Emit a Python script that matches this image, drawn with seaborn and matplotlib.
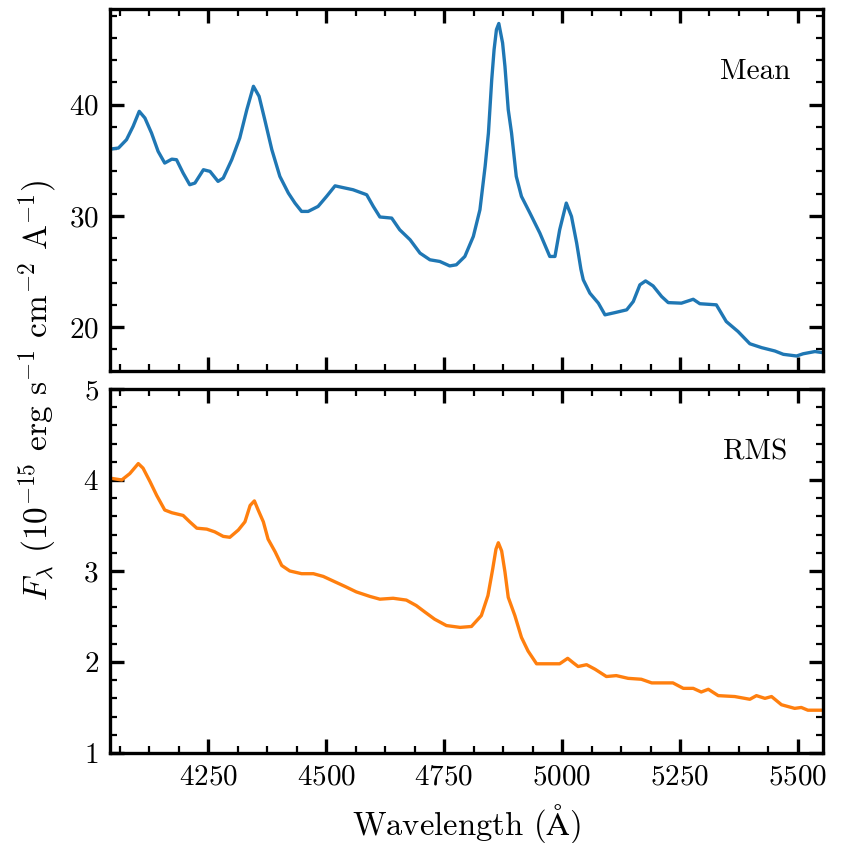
import matplotlib
matplotlib.use("Agg")
import matplotlib.pyplot as plt
from matplotlib.ticker import MultipleLocator
import seaborn as sns
import pandas as pd

# Mean spectrum: wavelength (Angstrom) and flux
mean_wave = [4042, 4060, 4077, 4091, 4104, 4116, 4130, 4144, 4158, 4173, 4183, 4197,
             4211, 4222, 4240, 4254, 4271, 4282, 4300, 4317, 4332, 4346, 4358, 4370,
             4385, 4402, 4420, 4434, 4448, 4462, 4483, 4501, 4519, 4535, 4557, 4586,
             4600, 4614, 4639, 4656, 4678, 4699, 4720, 4741, 4762, 4776, 4794, 4812,
             4826, 4837, 4844, 4851, 4856, 4861, 4866, 4874, 4879, 4886, 4893, 4903,
             4914, 4932, 4953, 4974, 4985, 4995, 5009, 5020, 5031, 5040, 5045, 5059,
             5077, 5091, 5112, 5137, 5151, 5165, 5177, 5193, 5211, 5225, 5253, 5278,
             5292, 5327, 5348, 5373, 5398, 5423, 5451, 5469, 5497, 5511, 5536, 5553]
mean_flux = [36.0, 36.1, 36.85, 38.05, 39.4, 38.8, 37.45, 35.8, 34.75, 35.1, 35.05, 33.85,
             32.8, 32.95, 34.15, 34.0, 33.1, 33.4, 35.05, 37.0, 39.55, 41.65, 40.75, 38.65,
             35.95, 33.55, 32.05, 31.15, 30.4, 30.4, 30.85, 31.75, 32.7, 32.55, 32.35, 31.9,
             30.85, 29.9, 29.8, 28.75, 27.85, 26.65, 26.05, 25.9, 25.5, 25.6, 26.35, 28.15,
             30.55, 34.45, 37.45, 42.25, 44.95, 46.75, 47.3, 45.55, 43.45, 39.55, 37.45, 33.55,
             31.75, 30.25, 28.45, 26.35, 26.35, 28.75, 31.15, 29.95, 27.55, 25.2, 24.25, 23.05,
             22.15, 21.1, 21.3, 21.55, 22.3, 23.8, 24.15, 23.7, 22.75, 22.2, 22.15, 22.5,
             22.1, 22.0, 20.5, 19.6, 18.5, 18.15, 17.85, 17.55, 17.4, 17.6, 17.8, 17.7]

# RMS spectrum
rms_wave = [4042, 4067, 4084, 4102, 4112, 4127, 4141, 4158, 4173, 4197, 4211, 4226,
            4247, 4264, 4282, 4296, 4314, 4328, 4339, 4348, 4356, 4367, 4377, 4392,
            4406, 4423, 4448, 4473, 4494, 4519, 4540, 4564, 4593, 4614, 4642, 4670,
            4691, 4709, 4730, 4755, 4784, 4808, 4829, 4843, 4853, 4860, 4865, 4872,
            4879, 4886, 4900, 4914, 4928, 4946, 4967, 4995, 5012, 5024, 5034, 5052,
            5070, 5094, 5115, 5140, 5168, 5190, 5218, 5235, 5257, 5278, 5295, 5310,
            5331, 5366, 5398, 5412, 5430, 5444, 5465, 5493, 5507, 5521, 5553]
rms_flux = [4.02, 4.0, 4.07, 4.18, 4.13, 3.98, 3.83, 3.67, 3.64, 3.61, 3.54, 3.47,
            3.46, 3.43, 3.38, 3.37, 3.45, 3.54, 3.72, 3.77, 3.67, 3.54, 3.35, 3.21,
            3.06, 3.0, 2.97, 2.97, 2.94, 2.88, 2.83, 2.77, 2.72, 2.69, 2.70, 2.68,
            2.62, 2.55, 2.47, 2.40, 2.38, 2.39, 2.51, 2.73, 3.02, 3.24, 3.31, 3.22,
            2.99, 2.71, 2.51, 2.27, 2.12, 1.98, 1.98, 1.98, 2.04, 1.99, 1.95, 1.97,
            1.92, 1.84, 1.85, 1.82, 1.81, 1.77, 1.77, 1.77, 1.71, 1.71, 1.67, 1.70,
            1.63, 1.62, 1.59, 1.63, 1.60, 1.62, 1.53, 1.49, 1.50, 1.47, 1.47]

panel_labels = ["Mean", "RMS"]

sns.set_theme(style="ticks")
plt.rcParams["font.family"] = ["cmr10", "DejaVu Serif"]
plt.rcParams["mathtext.fontset"] = "cm"
plt.rcParams["axes.unicode_minus"] = False
plt.rcParams["axes.formatter.use_mathtext"] = True
plt.rcParams["text.color"] = "black"
plt.rcParams["axes.labelcolor"] = "black"
plt.rcParams["xtick.color"] = "black"
plt.rcParams["ytick.color"] = "black"

fig = plt.figure(figsize=(8.48, 8.43), dpi=100)
ax1 = fig.add_axes([0.1297, 0.5599, 0.8408, 0.4294])
ax2 = fig.add_axes([0.1297, 0.1068, 0.8408, 0.4318], sharex=ax1)

df_mean = pd.DataFrame({"wave": mean_wave, "flux": mean_flux})
df_rms = pd.DataFrame({"wave": rms_wave, "flux": rms_flux})

sns.lineplot(data=df_mean, x="wave", y="flux", ax=ax1, color="#1f77b4",
             lw=2.4, estimator=None, sort=False)
sns.lineplot(data=df_rms, x="wave", y="flux", ax=ax2, color="#ff7f0e",
             lw=2.4, estimator=None, sort=False)

ax1.set_xlim(4042, 5553)
ax1.set_ylim(16.05, 48.6)
ax2.set_ylim(1, 5)

ax1.xaxis.set_major_locator(MultipleLocator(250))
ax1.xaxis.set_minor_locator(MultipleLocator(62.5))
ax1.yaxis.set_major_locator(MultipleLocator(10))
ax1.yaxis.set_minor_locator(MultipleLocator(2))
ax2.yaxis.set_major_locator(MultipleLocator(1))
ax2.yaxis.set_minor_locator(MultipleLocator(0.2))

for ax, label in zip((ax1, ax2), panel_labels):
    for sp in ax.spines.values():
        sp.set_linewidth(2.4)
        sp.set_color("black")
    ax.tick_params(which="both", direction="in", top=True, right=True,
                   labelsize=21, pad=8, colors="black")
    ax.tick_params(which="major", length=10, width=2.4)
    ax.tick_params(which="minor", length=5, width=1.6)
    ax.set_xlabel("")
    ax.set_ylabel("")
    ax.text(0.905, 0.826, label, transform=ax.transAxes, ha="center",
            va="center", fontsize=21, color="black")

ax1.tick_params(labelbottom=False)
ax2.set_xlabel(r"Wavelength ($\mathrm{\AA}$)", fontsize=23.5, labelpad=8,
               color="black")
fig.text(0.045, 0.537,
         r"$F_\lambda$ (10$^{-15}$ erg s$^{-1}$ cm$^{-2}$ A$^{-1}$)",
         rotation=90, ha="center", va="center", fontsize=24, color="black")

fig.savefig("out.png", dpi=100)
